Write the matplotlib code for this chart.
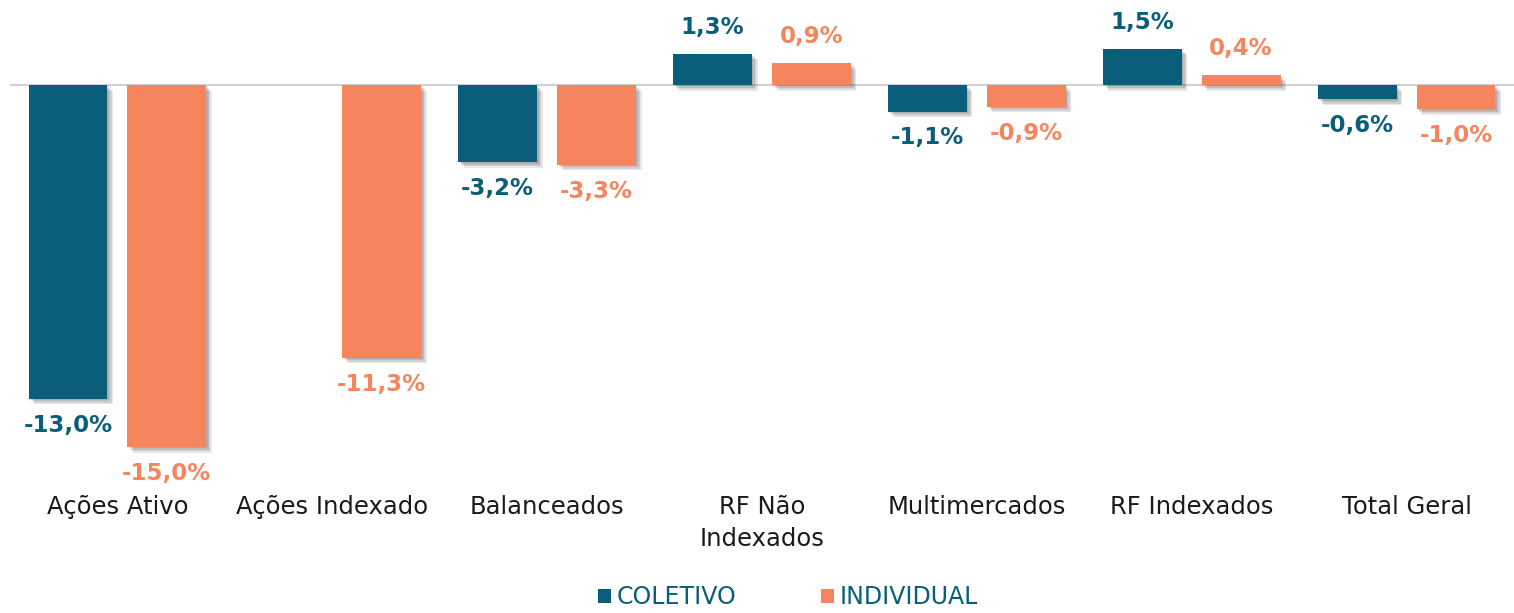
import numpy as np
import matplotlib
matplotlib.use("Agg")
import matplotlib.pyplot as plt
from matplotlib import patheffects as pe
from matplotlib.patches import Patch

categories = ["Ações Ativo", "Ações Indexado", "Balanceados", "RF Não\nIndexados",
              "Multimercados", "RF Indexados", "Total Geral"]
coletivo = [-13.0, np.nan, -3.2, 1.3, -1.1, 1.5, -0.6]
individual = [-15.0, -11.3, -3.3, 0.9, -0.9, 0.4, -1.0]
series_names = ["COLETIVO", "INDIVIDUAL"]

TEAL = "#0a5e79"
ORANGE = "#f6855d"

plt.rcParams["font.family"] = ["DejaVu Sans"]

fig = plt.figure(figsize=(15.14, 6.13), dpi=100)
fig.patch.set_facecolor("white")
ax = fig.add_axes([10 / 1514, 143 / 613, 1504 / 1514, 470 / 613])
ax.set_facecolor("none")

x = np.arange(len(categories))
width = 0.367
offset = 0.23
# soft drop shadow built from a few stacked, offset translucent copies
shadow = [pe.SimplePatchShadow(offset=(d, -d), shadow_rgbFace="#3a3a3a", alpha=0.12)
          for d in (1, 2, 3, 4)] + [pe.Normal()]


def fmt(v):
    return f"{v:.1f}%".replace(".", ",")


for vals, dx, color in [(coletivo, -offset, TEAL), (individual, offset, ORANGE)]:
    vals = np.array(vals, dtype=float)
    bars = ax.bar(x + dx, np.nan_to_num(vals), width, color=color, zorder=3)
    for b, v in zip(bars, vals):
        if np.isnan(v):
            b.set_visible(False)
            continue
        b.set_path_effects(shadow)
        sign = 1 if v >= 0 else -1
        ax.annotate(fmt(v), (b.get_x() + b.get_width() / 2, v),
                    xytext=(0, sign * 19), textcoords="offset points",
                    ha="center", va="center", color=color,
                    fontsize=16.5, fontweight="bold", zorder=4)

ax.axhline(0, color="#d0d0d0", lw=1.5, zorder=2)

ax.set_xlim(-0.5, 6.5)
ax.set_ylim(-(470 - 85) / 24.13, 85 / 24.13)
ax.set_xticks(x)
ax.set_xticklabels(categories, fontsize=17.5, color="#1a1a1a", linespacing=1.4)
ax.tick_params(axis="x", length=0, pad=18)
ax.set_yticks([])
for s in ax.spines.values():
    s.set_visible(False)

handles = [Patch(facecolor=TEAL), Patch(facecolor=ORANGE)]
leg = fig.legend(handles, series_names, loc="center", bbox_to_anchor=(788 / 1514, 1 - 597 / 613),
                 ncol=2, frameon=False, fontsize=17, handlelength=0.55, handleheight=0.55,
                 handletextpad=0.25, columnspacing=3.6)
for t in leg.get_texts():
    t.set_color(TEAL)

fig.savefig("out.png", dpi=100, facecolor="white")
